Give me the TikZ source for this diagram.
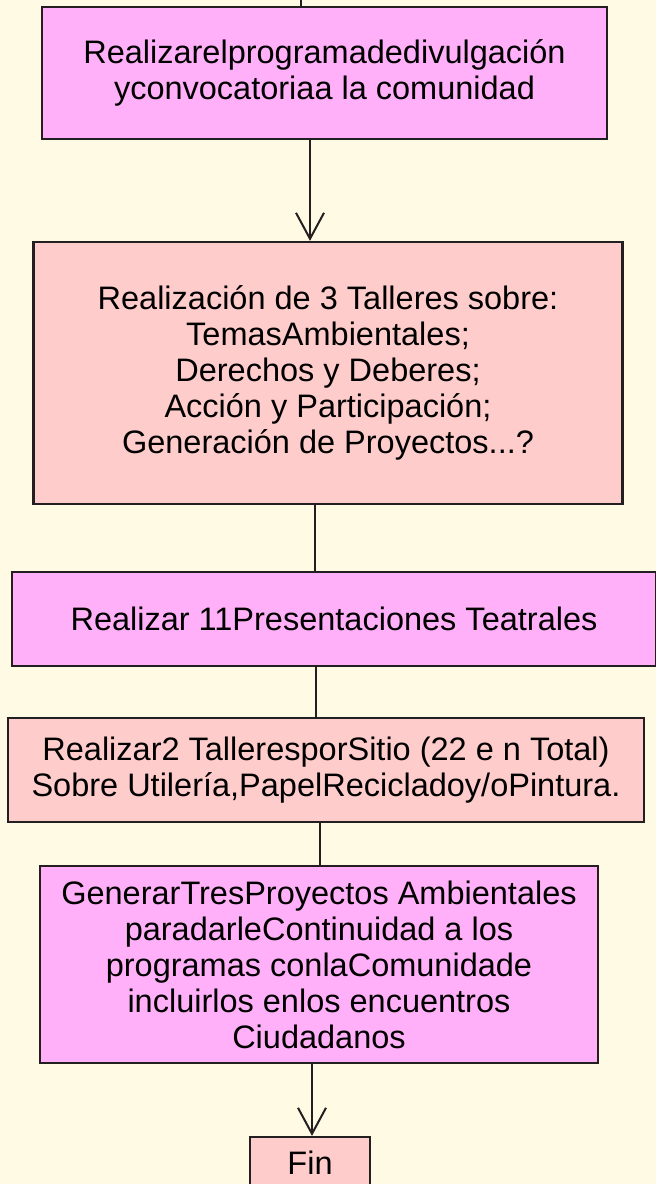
\documentclass[tikz,border=0pt]{standalone}
\usepackage{fontspec}
\setmainfont{Liberation Sans}
\usetikzlibrary{arrows.meta}
\definecolor{fondo}{RGB}{255,250,228}
\definecolor{magenta}{RGB}{255,176,248}
\definecolor{salmon}{RGB}{255,204,204}
\definecolor{borde}{RGB}{35,31,32}
\begin{document}
\begin{tikzpicture}[x=1pt,y=-1pt,
  caja/.style={draw=borde, line width=2.2pt, rectangle, inner sep=0pt, align=center,
    font=\fontsize{32.5}{36}\selectfont},
  linea/.style={draw=borde, line width=2pt},
  flecha/.style={linea, -{Straight Barb[length=26pt,width=28pt,line width=2pt]}}]
\useasboundingbox[fill=fondo] (0,0) rectangle (656,1184);
\coordinate (inicio) at (301,0);
\node[caja, fill=magenta, minimum width=565, minimum height=132] (prog) at (324.5,73)
  {Realizarelprogramadedivulgación\\yconvocatoriaa la comunidad};
\node[caja, fill=salmon, minimum width=589, minimum height=262] (talleres) at (328,373)
  {Realización de 3 Talleres sobre:\\TemasAmbientales;\\Derechos y Deberes;\\Acción y Participación;\\Generación de Proyectos...?};
\node[caja, fill=magenta, minimum width=644, minimum height=94] (teatro) at (334,619)
  {Realizar 11Presentaciones Teatrales};
\node[caja, fill=salmon, minimum width=636, minimum height=104] (sitio) at (326,770)
  {Realizar2 TalleresporSitio (22 e n Total)\\Sobre Utilería,PapelRecicladoy/oPintura.};
\node[caja, fill=magenta, minimum width=558, minimum height=197] (proyectos) at (319,964.5)
  {GenerarTresProyectos Ambientales\\paradarleContinuidad a los\\programas conlaComunidade\\incluirlos enlos encuentros\\Ciudadanos};
\node[caja, fill=salmon, minimum width=120, minimum height=52] (fin) at (310,1163) {Fin};
% conectores
\draw[linea] (inicio) -- (inicio |- prog.north);
\draw[flecha] ([xshift=-14.5pt]prog.south) -- ([xshift=-14.5pt]prog.south |- talleres.north);
\draw[linea] ([xshift=-13.5pt]talleres.south) -- ([xshift=-13.5pt]talleres.south |- teatro.north);
\draw[linea] ([xshift=-18pt]teatro.south) -- ([xshift=-18pt]teatro.south |- sitio.north);
\draw[linea] ([xshift=-6pt]sitio.south) -- ([xshift=-6pt]sitio.south |- proyectos.north);
\draw[flecha] ([xshift=-7pt]proyectos.south) -- ([xshift=-7pt]proyectos.south |- fin.north);
\end{tikzpicture}
\end{document}
